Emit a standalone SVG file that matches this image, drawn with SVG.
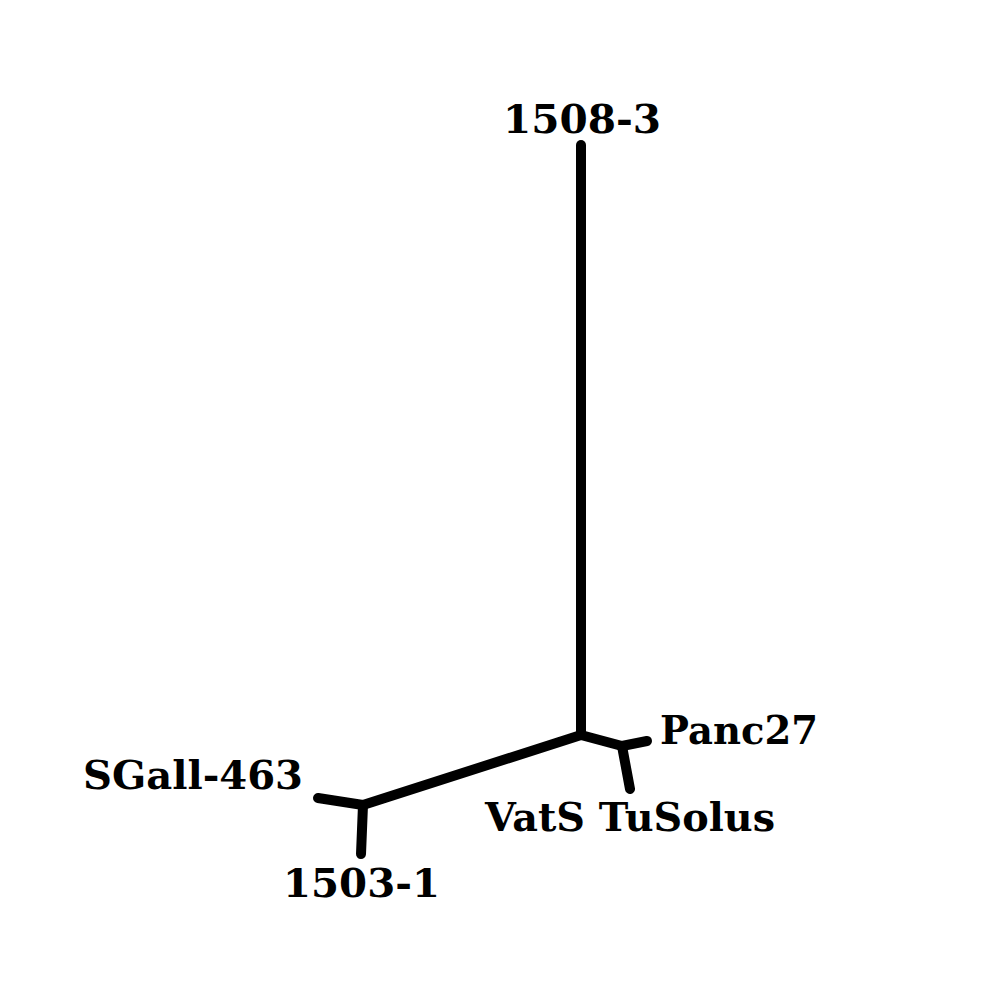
<svg xmlns="http://www.w3.org/2000/svg" width="1000" height="1000" viewBox="0 0 1000 1000">
<style>
.e{stroke:#000;stroke-width:10;stroke-linecap:round;stroke-linejoin:round;fill:none}
.l{font-family:"DejaVu Serif","Liberation Serif",serif;font-weight:bold;font-size:40px;fill:#000}
</style>
<rect width="1000" height="1000" fill="#fff"/>
<g id="connectors">
<line class="e" x1="581" y1="145" x2="581" y2="735"/>
<line class="e" x1="581" y1="735" x2="363" y2="805"/>
<line class="e" x1="581" y1="735" x2="622" y2="746"/>
<line class="e" x1="622" y1="746" x2="647" y2="741"/>
<line class="e" x1="622" y1="746" x2="630" y2="789"/>
<line class="e" x1="363" y1="805" x2="318" y2="798"/>
<line class="e" x1="363" y1="805" x2="361" y2="854"/>
</g>
<g id="n1508-3"><text class="l" x="503" y="133" textLength="158" lengthAdjust="spacingAndGlyphs">1508-3</text></g>
<g id="nPanc27"><text class="l" x="660" y="744" textLength="158" lengthAdjust="spacingAndGlyphs">Panc27</text></g>
<g id="nVatS"><text class="l" x="485" y="831" textLength="290" lengthAdjust="spacingAndGlyphs">VatS TuSolus</text></g>
<g id="nSGall"><text class="l" x="83" y="789" textLength="220" lengthAdjust="spacingAndGlyphs">SGall-463</text></g>
<g id="n1503-1"><text class="l" x="283" y="897" textLength="157" lengthAdjust="spacingAndGlyphs">1503-1</text></g>
</svg>
